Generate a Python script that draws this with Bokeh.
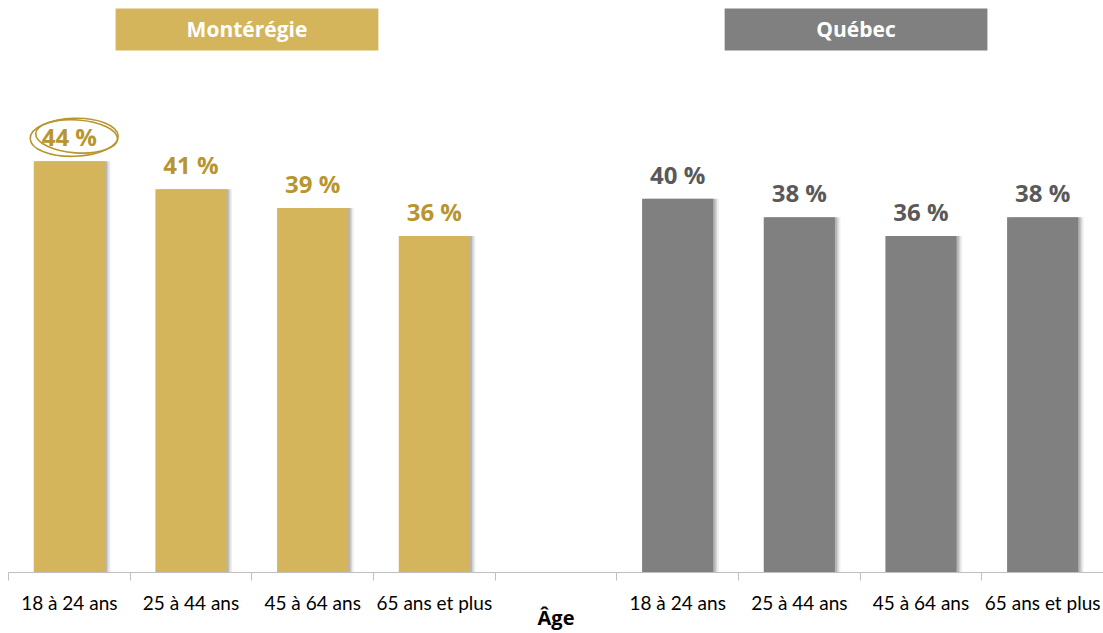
from bokeh.plotting import figure
from bokeh.models import ColumnDataSource, Range1d, FixedTicker, LinearAxis
from bokeh.core.properties import value
from bokeh.transform import dodge
from bokeh.embed import file_html
from bokeh.resources import INLINE

# Data
categories = ["18 à 24 ans", "25 à 44 ans", "45 à 64 ans", "65 ans et plus"]
monteregie = [44, 41, 39, 36]
quebec = [40, 38, 36, 38]
groups = ["Montérégie", "Québec"]
axis_title = "Âge"

GOLD = "#D5B55B"
GOLD_TXT = "#B8952F"
GRAY = "#808080"
GRAY_TXT = "#595959"

W, H = 1103, 633
YMAX = 61.2
p = figure(width=W, height=H, output_backend="svg", toolbar_location=None,
           x_range=Range1d(0, 9), y_range=Range1d(0, YMAX),
           y_axis_location=None, x_axis_location=None,
           min_border_left=8, min_border_right=0, min_border_top=0,
           min_border_bottom=60)
p.outline_line_color = None
p.xgrid.visible = False
p.ygrid.visible = False
p.background_fill_color = "white"

# positions: slots 0-3 Montérégie, slot 4 blank, slots 5-8 Québec
xm = [i + 0.5 for i in range(len(categories))]
xq = [i + 5.5 for i in range(len(categories))]

src_m = ColumnDataSource(dict(x=xm, top=monteregie,
                              lab=[f"{v} %" for v in monteregie]))
src_q = ColumnDataSource(dict(x=xq, top=quebec,
                              lab=[f"{v} %" for v in quebec]))

bw = 0.585
# soft shadows
for dx, a in [(0.045, 0.07), (0.03, 0.10), (0.018, 0.14)]:
    for s in (src_m, src_q):
        p.vbar(x=dodge("x", dx), top="top", width=bw, bottom=0,
               source=s, fill_color="#000000", fill_alpha=a, line_color=None)

p.vbar(x="x", top="top", width=bw, source=src_m, fill_color=GOLD, line_color=None)
p.vbar(x="x", top="top", width=bw, source=src_q, fill_color=GRAY, line_color=None)

p.text(x="x", y="top", text="lab", source=src_m, text_align="center",
       text_baseline="bottom", y_offset=-8, text_font=value("Open Sans"),
       text_font_style="bold", text_font_size="24px", text_color=GOLD_TXT)
p.text(x="x", y="top", text="lab", source=src_q, text_align="center",
       text_baseline="bottom", y_offset=-8, text_font=value("Open Sans"),
       text_font_style="bold", text_font_size="24px", text_color=GRAY_TXT)

# hand-drawn circle around the highest value
p.ellipse(x=[xm[0] + 0.04, xm[0] + 0.06], y=[monteregie[0] + 2.56, monteregie[0] + 2.66],
          width=[88, 82], height=[38, 33], width_units="screen",
          height_units="screen", angle=[0.03, -0.07], fill_color=None,
          line_color=GOLD_TXT, line_width=1.6)

# group headers
hy = YMAX - 3.1
p.rect(x=[1.96, 6.966], y=[hy, hy], width=2.16, height=42,
       height_units="screen", fill_color=[GOLD, GRAY], line_color=None)
p.text(x=[1.96, 6.966], y=[hy, hy], text=groups, text_align="center",
       text_baseline="middle", text_font=value("Open Sans"),
       text_font_style="bold", text_font_size="21px", text_color="white")

# axis: ticks at slot boundaries (minor), labels at centers
ax = LinearAxis()
centers = [i + 0.5 for i in range(9)]
ax.ticker = FixedTicker(ticks=centers, minor_ticks=list(range(10)))
labels = categories + [""] + categories
ax.major_label_overrides = {c: l for c, l in zip(centers, labels)}
ax.major_tick_out = 0
ax.major_tick_in = 0
ax.minor_tick_out = 8
ax.minor_tick_in = 0
ax.minor_tick_line_color = "#BFBFBF"
ax.axis_line_color = "#BFBFBF"
ax.major_label_text_font = "Lato"
ax.major_label_text_font_size = "19px"
ax.major_label_text_color = "#000000"
ax.major_label_standoff = 10
ax.axis_label = axis_title
ax.axis_label_text_font = "Open Sans"
ax.axis_label_text_font_style = "bold"
ax.axis_label_text_font_size = "20px"
ax.axis_label_text_color = "#000000"
ax.axis_label_standoff = -13
p.add_layout(ax, "below")

open("out.html", "w").write(file_html(p, INLINE))
